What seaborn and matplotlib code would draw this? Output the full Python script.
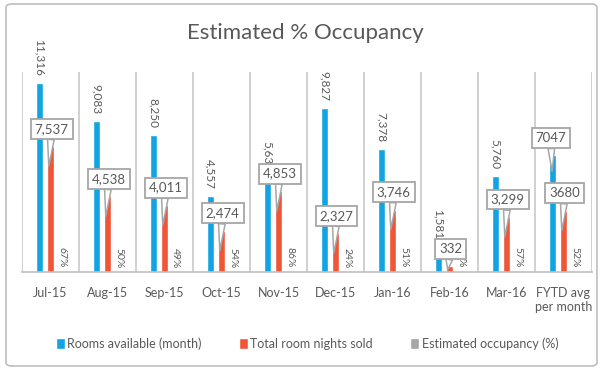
import numpy as np
import pandas as pd
import seaborn as sns
import matplotlib
matplotlib.use("Agg")
import matplotlib.pyplot as plt
from matplotlib.patches import FancyBboxPatch

months = ["Jul-15", "Aug-15", "Sep-15", "Oct-15", "Nov-15", "Dec-15",
          "Jan-16", "Feb-16", "Mar-16", "FYTD avg\nper month"]
rooms_available = [11316, 9083, 8250, 4557, 5630, 9827, 7378, 1581, 5760, 7047]
nights_sold = [7537, 4538, 4011, 2474, 4853, 2327, 3746, 332, 3299, 3680]
occupancy = [0.67, 0.50, 0.49, 0.54, 0.86, 0.24, 0.51, 0.21, 0.57, 0.52]
series_names = ["Rooms available (month)", "Total room nights sold",
                "Estimated occupancy (%)"]
colors = ["#12A3E3", "#F05537", "#A6A6A6"]

df = pd.DataFrame({
    "month": months * 3,
    "value": rooms_available + nights_sold + occupancy,
    "series": [series_names[0]] * 10 + [series_names[1]] * 10 + [series_names[2]] * 10,
})

sns.set_theme(style="white")
plt.rcParams["font.family"] = ["Lato", "DejaVu Sans"]
txt = "#595959"

fig = plt.figure(figsize=(6.02, 3.69), dpi=100)
ax = fig.add_axes([22 / 602, 1 - 272 / 369, 570 / 602, 200 / 369])

sns.barplot(data=df, x="month", y="value", hue="series", palette=colors,
            width=0.6, gap=0.4, ax=ax, legend=True, saturation=1)

ax.set_ylim(0, 12000)
ax.set_xlim(-0.5, 9.5)
ax.set_xlabel("")
ax.set_ylabel("")
ax.set_yticks([])
for s in ["top", "right", "left"]:
    ax.spines[s].set_visible(False)
ax.spines["bottom"].set_color("#BFBFBF")
ax.spines["bottom"].set_linewidth(1.2)
for b in np.arange(-0.5, 10, 1):
    ax.axvline(b, ymin=0, ymax=1, color="#C8C8C8", lw=1.2, zorder=0)
ax.tick_params(axis="x", length=0, pad=11, labelsize=9, labelcolor=txt)

# Labels
box = dict(boxstyle="square,pad=0.3", fc="white", ec="#A6A6A6", lw=1.3)
arrow = dict(arrowstyle="wedge,tail_width=0.5,shrink_factor=0.5",
             fc="white", ec="#A6A6A6", lw=1.1, shrinkA=0, shrinkB=0)
for i in range(10):
    # rooms available
    if i < 9:
        ax.annotate(f"{rooms_available[i]:,}", xy=(i - 0.2, rooms_available[i]),
                    xytext=(0, 5), textcoords="offset points", rotation=-90,
                    ha="center", va="bottom", fontsize=8.5, color=txt,
                    annotation_clip=False)
    else:
        ax.annotate(f"{rooms_available[i]}",
                    xy=(i - 0.2, rooms_available[i] - 1000),
                    xytext=(i - 0.22, rooms_available[i] + 1000),
                    textcoords="data", ha="center", va="center",
                    fontsize=9.5, color=txt, bbox=box, arrowprops=arrow)
    # nights sold callout
    ns = nights_sold[i]
    tip_y = max(ns - 1200, ns * 0.4)
    lab = f"{ns}" if i == 9 else f"{ns:,}"
    ax.annotate(lab, xy=(i - 0.03, tip_y),
                xytext=(i + 0.02, ns + 1050), textcoords="data",
                ha="center", va="center", fontsize=9.5, color=txt,
                bbox=box, arrowprops=arrow, zorder=5)
    # occupancy
    ax.annotate(f"{occupancy[i] * 100:.0f}%", xy=(i + 0.2, 0),
                xytext=(0, 3), textcoords="offset points", rotation=-90,
                ha="center", va="bottom", fontsize=7.5, color=txt)

leg = ax.legend(loc="upper center", bbox_to_anchor=(0.5, -0.27), ncol=3,
                frameon=False, fontsize=9, handlelength=0.7, handleheight=1.0,
                handletextpad=0.2, columnspacing=3.0)
for t in leg.get_texts():
    t.set_color(txt)

fig.text(0.508, 1 - 33 / 369, "Estimated % Occupancy", ha="center", va="center",
         fontsize=16, color=txt)

frame = FancyBboxPatch((6 / 602, 3 / 369), 591 / 602, 362 / 369,
                       boxstyle="round,pad=0,rounding_size=0.01",
                       transform=fig.transFigure, fill=False,
                       ec="#BFBFBF", lw=1.2)
fig.patches.append(frame)

fig.savefig("out.png", dpi=100)
